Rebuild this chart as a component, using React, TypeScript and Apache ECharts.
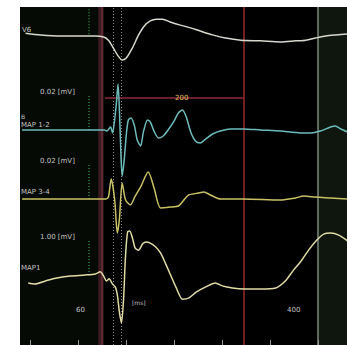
import React, { useEffect, useRef } from "react";
import * as echarts from "echarts";

// time axis in ms
const timeTicks = [0, 70, 140, 210, 280, 350, 420];

// V6 surface lead (mV)
const v6Time = [-7, 15, 44, 73, 95, 107, 114, 121, 128, 134, 140, 149, 158, 166, 175, 184, 193, 204, 219, 234, 248, 266, 285, 307, 336, 365, 387, 402, 416, 431, 445, 463];
const v6Values = [0.11, 0.06, 0.03, 0.03, 0.03, 0, -0.09, -0.31, -0.54, -0.66, -0.6, -0.31, 0.06, 0.31, 0.46, 0.51, 0.51, 0.43, 0.34, 0.26, 0.17, 0.06, -0.03, -0.09, -0.11, -0.14, -0.11, -0.09, -0.03, 0.03, 0.06, 0.09];

// MAP 1-2 bipolar (µV)
const map12Time = [-12, 44, 95, 108, 112, 117, 120, 123, 126, 128, 130, 132, 134, 137, 140, 143, 147, 152, 156, 161, 165, 171, 175, 181, 187, 194, 201, 209, 216, 222, 228, 234, 241, 248, 256, 266, 277, 292, 311, 336, 365, 394, 409, 423, 438, 445, 453, 463];
const map12Values = [0, 0, 0, 0, -0.6, 1.7, -1.7, 5.7, 17.1, 26.3, 11.4, -11.4, -26.3, -17.1, -2.9, 5.7, 6.9, 2.3, -5.7, -9.1, -1.1, 5.7, 4.6, -1.1, -4.6, -3.4, 0, 4.6, 9.7, 11.4, 6.9, -1.1, -6.3, -7.4, -5.1, -2.3, -0.6, 0.6, 0.6, 0, -0.6, -1.7, -1.7, -0.6, 1.7, 2.3, 0.6, -1.1];

// MAP 3-4 bipolar (µV)
const map34Time = [-12, 44, 95, 110, 114, 118, 123, 127, 130, 134, 139, 146, 153, 161, 172, 181, 190, 204, 216, 223, 231, 238, 245, 253, 263, 277, 311, 365, 387, 399, 416, 438, 463];
const map34Values = [0, 0, 0, 0, 1.1, 11.4, 0, -19.4, -11.4, 9.1, -0.6, -3.4, 1.7, 6.9, 15.4, 5.7, -5.1, -4.6, -4, -1.1, 2.3, 2.9, 3.4, 4, 2.3, 0, 0, -0.6, 0.6, 1.7, 1.1, 0.6, 0];

// MAP 1 unipolar (mV)
const map1Time = [-3, 7, 22, 37, 58, 80, 95, 102, 107, 111, 115, 120, 124, 127, 130, 133, 136, 139, 142, 145, 149, 153, 158, 164, 169, 175, 183, 190, 197, 204, 213, 222, 231, 242, 256, 270, 280, 295, 311, 336, 358, 372, 384, 394, 406, 418, 428, 438, 450, 463];
const map1Values = [-0.23, -0.26, -0.17, -0.09, -0.03, 0, 0.03, 0.09, -0.03, -0.17, -0.11, -0.26, -0.34, -0.57, -1.06, -1.37, -0.71, 0.57, 1.23, 1.26, 1.06, 0.77, 0.71, 0.89, 0.94, 0.91, 0.8, 0.63, 0.34, 0.03, -0.37, -0.69, -0.66, -0.49, -0.34, -0.23, -0.31, -0.37, -0.4, -0.4, -0.37, -0.17, 0.14, 0.37, 0.71, 1.0, 1.17, 1.2, 1.14, 0.97];

const channelNames = ["V6", "MAP 1-2", "MAP 3-4", "MAP1"];

const W = 347;
const H = 345;
const PANEL_TOP = 7;
const PANEL_LEFT = 20;
const PANEL_H = H - PANEL_TOP;

function axisRange(baselinePx: number, gain: number) {
  const min = -(H - baselinePx) / gain;
  return { min, max: min + PANEL_H / gain };
}

const zip = (t: number[], v: number[]) => t.map((x, i) => [x, v[i]]);

export default function App() {
  const ref = useRef<HTMLDivElement>(null);
  useEffect(() => {
    if (!ref.current) return;
    const chart = echarts.init(ref.current, null, { renderer: "svg" });
    const layout = [
      { base: 37, gain: 35, color: "#d8d8cc" },
      { base: 130, gain: 1.75, color: "#6dbcbc" },
      { base: 199, gain: 1.75, color: "#c9c264" },
      { base: 275, gain: 35, color: "#e0dca4" },
    ];
    const data = [
      zip(v6Time, v6Values),
      zip(map12Time, map12Values),
      zip(map34Time, map34Values),
      zip(map1Time, map1Values),
    ];
    const scaleBar = [
      [0.08, 0.84],
      [0, 20],
      [0, 20],
      [0, 1],
    ];
    const barX = 86;
    const textStyle = { fill: "#c4c4c0", fontSize: 7, fontFamily: "DejaVu Sans" };
    const txt = (left: number, top: number, text: string, extra: any = {}) => ({
      type: "text",
      left,
      top,
      z: 100,
      style: { ...textStyle, ...extra, text },
    });
    const option: any = {
      animation: false,
      backgroundColor: "#ffffff",
      grid: {
        left: PANEL_LEFT,
        top: PANEL_TOP,
        right: 0,
        bottom: 0,
        show: true,
        backgroundColor: "#000000",
        borderWidth: 0,
      },
      xAxis: {
        type: "value",
        min: -15,
        max: 462,
        position: "bottom",
        axisLine: { show: false, onZero: false },
        splitLine: { show: false },
        axisLabel: { show: false },
        axisTick: {
          show: true,
          inside: true,
          length: 5,
          customValues: timeTicks,
          lineStyle: { color: "#9a9a9a", width: 1 },
        },
        z: 20,
      },
      yAxis: layout.map((l) => ({
        type: "value",
        show: false,
        ...axisRange(l.base, l.gain),
        splitLine: { show: false },
      })),
      series: layout.map((l, i) => {
        const s: any = {
          name: channelNames[i],
          type: "line",
          yAxisIndex: i,
          data: data[i],
          showSymbol: false,
          smooth: 0.25,
          lineStyle: { color: l.color, width: 1.5 },
          z: 5,
          markLine: {
            silent: true,
            symbol: ["none", "none"],
            label: { show: false },
            lineStyle: { color: "#2f8a3f", type: [1, 2], width: 1.5 },
            data: [
              [
                { coord: [barX, scaleBar[i][0]] },
                { coord: [barX, scaleBar[i][1]] },
              ],
            ],
          },
        };
        if (i === 0) {
          s.markArea = {
            silent: true,
            data: [
              [{ xAxis: -15, itemStyle: { color: "#050a05" } }, { xAxis: 99 }],
              [{ xAxis: 419, itemStyle: { color: "#0e160e" } }, { xAxis: 462 }],
              [{ xAxis: 99, itemStyle: { color: "#3a1a20" } }, { xAxis: 107 }],
            ],
          };
          s.markLine.data.push(
            { xAxis: 104, lineStyle: { color: "#6a3038", type: "solid", width: 1.5 } },
            { xAxis: 121, lineStyle: { color: "#8a8a8a", type: [1, 2], width: 1 } },
            { xAxis: 133, lineStyle: { color: "#8a8a8a", type: [1, 2], width: 1 } },
            { xAxis: 311, lineStyle: { color: "#9a2a2a", type: "solid", width: 1.5 } },
            { xAxis: 419, lineStyle: { color: "#7a887a", type: "solid", width: 1.5 } }
          );
        }
        if (i === 1) {
          s.markLine.data.push([
            { coord: [109, 18.3], lineStyle: { color: "#8a2a3a", type: "solid", width: 1.5 } },
            { coord: [311, 18.3] },
          ]);
        }
        return s;
      }),
      graphic: [
        txt(22, 26, "V6"),
        txt(40, 88, "0.02 [mV]"),
        txt(21, 113, "B", { fontSize: 6 }),
        txt(21, 121, "MAP 1-2"),
        txt(40, 157, "0.02 [mV]"),
        txt(21, 188, "MAP 3-4"),
        txt(40, 233, "1.00 [mV]"),
        txt(21, 264, "MAP1"),
        txt(76, 306, "60"),
        txt(132, 299, "[ms]", { fontSize: 6 }),
        txt(287, 306, "400"),
        txt(175, 94, "200", { fill: "#e0c060" }),
      ],
    };
    chart.setOption(option);
    return () => chart.dispose();
  }, []);
  return (
    <div
      ref={ref}
      style={{ position: "fixed", left: 0, top: 0, width: W, height: H, background: "#fff" }}
    />
  );
}
